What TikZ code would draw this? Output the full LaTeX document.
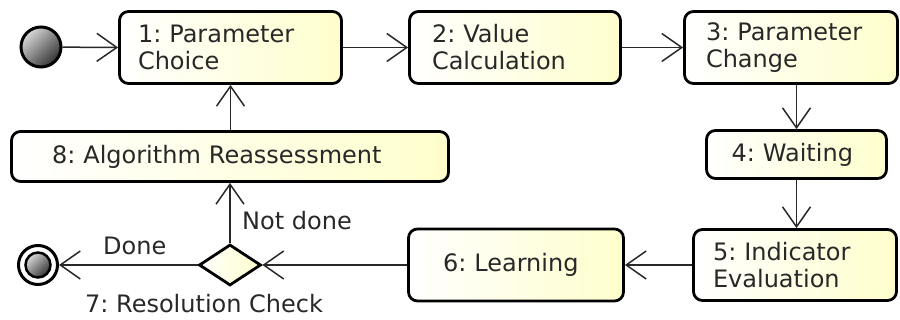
\documentclass[tikz,border=0pt]{standalone}
\usepackage{fontspec}
\setmainfont{DejaVu Sans}
\usetikzlibrary{arrows.meta,shapes.geometric}
\definecolor{yl}{RGB}{254,254,204}
\definecolor{ink}{RGB}{40,40,40}
\frenchspacing
\begin{document}
\begin{tikzpicture}[x=1pt,y=-1pt,
  every node/.style={font=\fontsize{24}{27}\selectfont\frenchspacing, text=ink},
  act/.style={draw=black, line width=2.8pt, rounded corners=9pt, left color=white, right color=yl, align=left, inner ysep=0pt},
  flow/.style={draw=ink, line width=1.5pt, -{Straight Barb[length=20pt,width=28pt]}},
  lbl/.style={inner sep=0pt, anchor=base west}]
\useasboundingbox (0,0) rectangle (900,320);

% activity boxes
\node[act, text width=185pt, inner xsep=18.5pt, minimum height=72pt] (b1) at (230.5,47.5) {1: Parameter\\Choice};
\node[act, text width=166pt, inner xsep=22.5pt, minimum height=72pt] (b2) at (515,47.5) {2: Value\\Calculation};
\node[act, text width=170pt, inner xsep=21.5pt, minimum height=72pt] (b3) at (791,47.5) {3: Parameter\\Change};
\node[act, text width=130pt, inner xsep=25pt, minimum height=48pt] (b4) at (796.5,154.5) {4: Waiting};
\node[act, text width=164pt, inner xsep=19.5pt, minimum height=71pt] (b5) at (795,265) {5: Indicator\\Evaluation};
\node[act, text width=146pt, inner xsep=34.5pt, minimum height=72pt] (b6) at (516,265) {6: Learning};
\node[act, text width=356pt, inner xsep=40.5pt, minimum height=50pt] (b8) at (230,156.5) {8: Algorithm Reassessment};

% decision
\node[diamond, draw=black, line width=2.8pt, left color=white, right color=yl, minimum width=62pt, minimum height=41pt, inner sep=0pt] (dec) at (230,265) {};

% start and end
\node[circle, draw=black, line width=3pt, minimum size=40pt, inner sep=0pt, top color=black!15, bottom color=black!80, shading angle=45] (start) at (41,47) {};
\node[circle, draw=black, line width=3pt, minimum size=39pt, inner sep=0pt, fill=white] (stop) at (38,265) {};
\node[circle, draw=black, line width=2.5pt, minimum size=25pt, inner sep=0pt, top color=black!15, bottom color=black!80, shading angle=45] (stopin) at (38,265) {};

% labels
\node[lbl] (ldone) at (103,255) {Done};
\node[lbl] (lnot) at (242,230) {Not done};
\node[lbl] (lres) at (85,313) {7: Resolution Check};

% connectors
\draw[flow] (start) -- (b1.west);
\draw[flow] (b1.east) -- (b2.west);
\draw[flow] (b2.east) -- (b3.west);
\draw[flow] (b4.north |- b3.south) -- (b4.north);
\draw[flow] (b4.south) -- (b4.south |- b5.north);
\draw[flow] (b5.west) -- (b6.east);
\draw[flow] (b6.west) -- (dec.east);
\draw[flow] (dec.west) -- (stop.east);
\draw[flow] (dec.north) -- (dec.north |- b8.south);
\draw[flow] (b1.south |- b8.north) -- (b1.south);
\end{tikzpicture}
\end{document}
